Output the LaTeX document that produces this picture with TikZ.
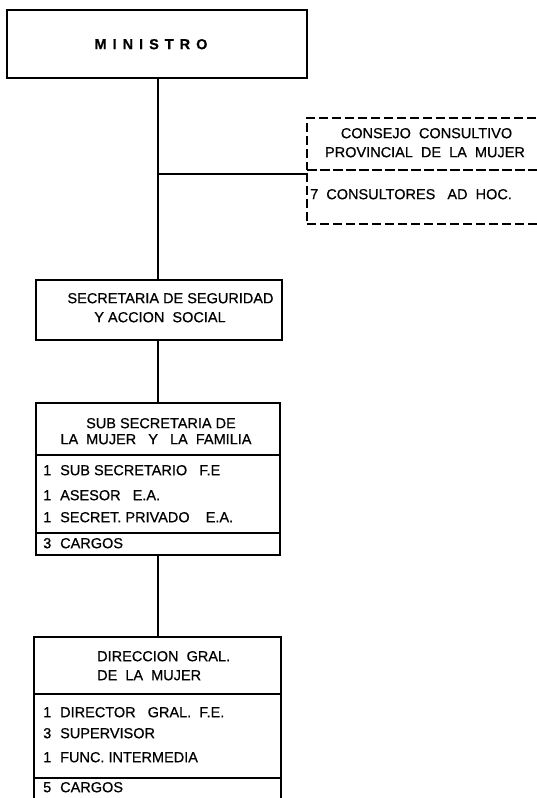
\documentclass[tikz,border=0pt]{standalone}
\usepackage{fontspec}
\setmainfont[FakeBold=0.6]{Liberation Sans}
\newcommand\itm[2]{\makebox[17pt][l]{#1}#2}
\begin{document}
\begin{tikzpicture}[x=1pt,y=-1pt,
  box/.style={draw, line width=2.2pt, rectangle, inner sep=0pt},
  dbox/.style={draw, rectangle, inner sep=0pt, line width=1.8pt, dash pattern=on 9pt off 4pt},
  conn/.style={line width=1.3pt},
  lbl/.style={font=\fontsize{14.5}{17}\selectfont, inner sep=0pt, text height=10.4pt, text depth=0pt},
  ]
\useasboundingbox (0,0) rectangle (537,798);
\clip (0,0) rectangle (537,798);

% ---------- boxes ----------
\node[box, minimum width=300pt, minimum height=68pt] (min) at (157,44) {};
\node[dbox, minimum width=238pt, minimum height=52pt] (consT) at (426,144) {};
\node[dbox, minimum width=238pt, minimum height=54pt] (consI) at (426,197) {};
\node[box, minimum width=246pt, minimum height=60pt] (sec) at (159,310) {};
\node[box, minimum width=244pt, minimum height=52pt] (subT) at (158,429) {};
\node[box, minimum width=244pt, minimum height=78pt] (subI) at (158,494) {};
\node[box, minimum width=244pt, minimum height=22pt] (subC) at (158,544) {};
\node[box, minimum width=247pt, minimum height=57pt] (dirT) at (157.5,665.5) {};
\node[box, minimum width=247pt, minimum height=84pt] (dirI) at (157.5,736) {};
\node[box, minimum width=247pt, minimum height=24pt] (dirC) at (157.5,790) {};

% ---------- texts ----------
\node[lbl, font=\bfseries\fontsize{14.5}{17}\selectfont] (minL) at (151,44)
  {M\hspace{6pt}I\hspace{6pt}N\hspace{6pt}I\hspace{6pt}S\hspace{6pt}T\hspace{6pt}R\hspace{6pt}O};

\node[lbl] (consL1) at (426.5,133) {CONSEJO~ CONSULTIVO};
\node[lbl] (consL2) at (425,152) {PROVINCIAL~ DE~ LA~ MUJER};
\node[lbl, anchor=west] (consL3) at (310,194) {7~ CONSULTORES~~ AD~ HOC.};

\node[lbl] (secL1) at (170.5,298) {SECRETARIA DE SEGURIDAD};
\node[lbl] (secL2) at (160,317) {Y ACCION~ SOCIAL};

\node[lbl] (subL1) at (161,423) {SUB SECRETARIA DE};
\node[lbl] (subL2) at (156,439) {LA~ MUJER~~ Y~~ LA~ FAMILIA};
\node[lbl, anchor=west] (subI1) at (43,470) {\itm{1}{SUB SECRETARIO~~ F.E}};
\node[lbl, anchor=west] (subI2) at (43,495) {\itm{1}{ASESOR~~ E.A.}};
\node[lbl, anchor=west] (subI3) at (43,517) {\itm{1}{SECRET. PRIVADO~~~ E.A.}};
\node[lbl, anchor=west] (subC1) at (43,543) {\itm{3}{CARGOS}};

\node[lbl, anchor=west] (dirL1) at (97,656) {DIRECCION~ GRAL.};
\node[lbl, anchor=west] (dirL2) at (97,675) {DE~ LA~ MUJER};
\node[lbl, anchor=west] (dirI1) at (43,712) {\itm{1}{DIRECTOR~~ GRAL.~ F.E.}};
\node[lbl, anchor=west] (dirI2) at (43,733) {\itm{3}{SUPERVISOR}};
\node[lbl, anchor=west] (dirI3) at (43,757) {\itm{1}{FUNC. INTERMEDIA}};
\node[lbl, anchor=west] (dirC1) at (43,787) {\itm{5}{CARGOS}};

% ---------- connectors ----------
\coordinate (j) at (158,174);
\draw[conn] (min.south -| j) -- (sec.north -| j);
\draw[conn] (j) -- (j -| consI.west);
\draw[conn] (sec.south -| j) -- (subT.north -| j);
\draw[conn] (subC.south -| j) -- (dirT.north -| j);
\end{tikzpicture}
\end{document}
